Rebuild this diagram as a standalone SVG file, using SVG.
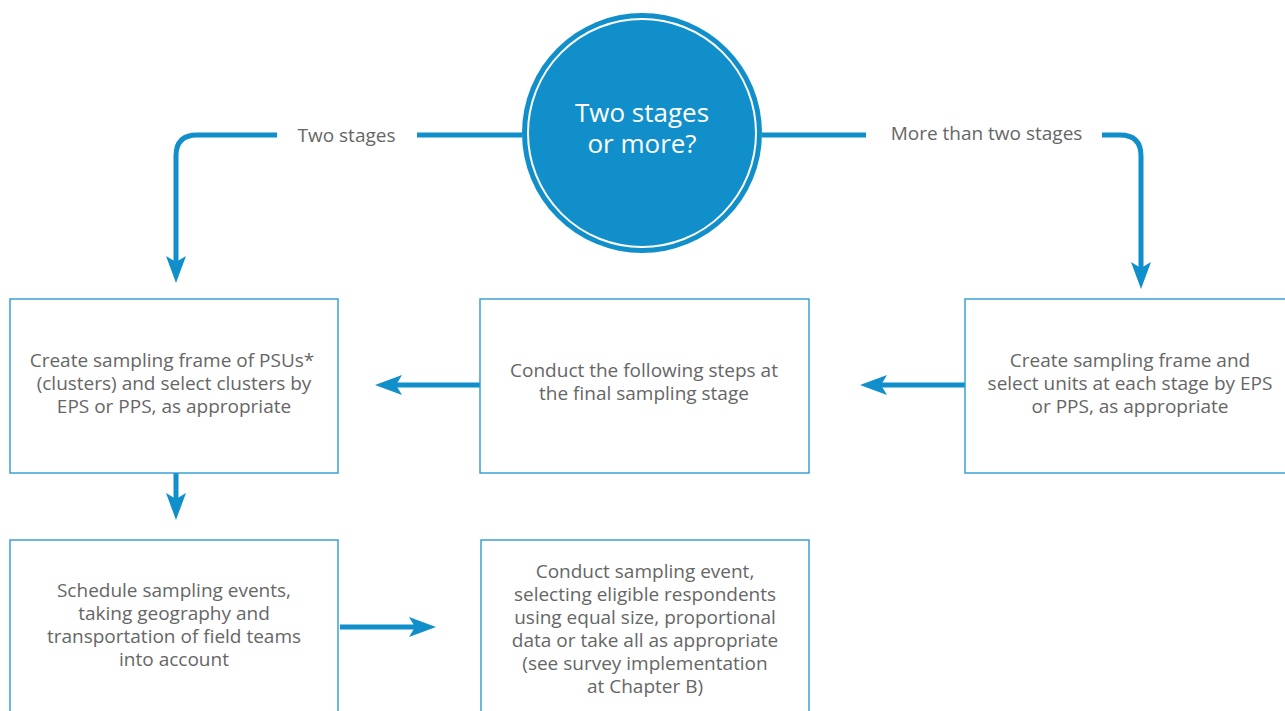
<svg xmlns="http://www.w3.org/2000/svg" width="1285" height="711" viewBox="0 0 1285 711">
<style>
.box{fill:#fff;stroke:#2d9ad5;stroke-width:1.4}
.t{font-family:"Open Sans","Noto Sans","Liberation Sans",sans-serif;font-size:19px;fill:#666;text-anchor:middle}
.lbl{font-family:"Open Sans","Noto Sans","Liberation Sans",sans-serif;font-size:19px;fill:#666;text-anchor:middle}
.ct{font-family:"Open Sans","Noto Sans","Liberation Sans",sans-serif;font-size:26px;fill:#fff;text-anchor:middle}
.c{fill:none;stroke:#118fcb;stroke-width:5}
</style>
<defs>
<marker id="ah" markerUnits="userSpaceOnUse" markerWidth="28" markerHeight="22" viewBox="0 -11 28 22" refX="12" refY="0" orient="auto">
<path d="M0,-10 L27,0 L0,10 L6,0 Z" fill="#118fcb"/>
</marker>
</defs>
<rect width="1285" height="711" fill="#fff"/>
<g id="connectors">
<path class="c" d="M522,135 H417"/>
<path class="c" d="M277,135 H197 Q176,135 176,156 V268" marker-end="url(#ah)"/>
<path class="c" d="M762,135 H866"/>
<path class="c" d="M1102,135 H1120 Q1141,135 1141,156 V274" marker-end="url(#ah)"/>
<path class="c" d="M480,385 H390" marker-end="url(#ah)"/>
<path class="c" d="M965,385 H875" marker-end="url(#ah)"/>
<path class="c" d="M176,473 V505" marker-end="url(#ah)"/>
<path class="c" d="M340,627 H421" marker-end="url(#ah)"/>
<text class="lbl" x="346.5" y="142">Two stages</text>
<text class="lbl" x="986.5" y="140">More than two stages</text>
</g>
<g id="decision">
<circle cx="642" cy="133" r="120" fill="#118fcb"/>
<circle cx="642" cy="133" r="114" fill="none" stroke="#fff" stroke-width="2"/>
<text class="ct" x="642" y="122">Two stages</text>
<text class="ct" x="642" y="153">or more?</text>
</g>
<g id="box1">
<rect class="box" x="10" y="299" width="328" height="174"/>
<text class="t" x="172" y="367">Create sampling frame of PSUs*</text>
<text class="t" x="174" y="390">(clusters) and select clusters by</text>
<text class="t" x="174" y="413">EPS or PPS, as appropriate</text>
</g>
<g id="box2">
<rect class="box" x="480" y="299" width="329" height="174"/>
<text class="t" x="644" y="377">Conduct the following steps at</text>
<text class="t" x="644" y="400">the final sampling stage</text>
</g>
<g id="box3">
<rect class="box" x="965" y="299" width="330" height="174"/>
<text class="t" x="1130" y="367">Create sampling frame and</text>
<text class="t" x="1130" y="390">select units at each stage by EPS</text>
<text class="t" x="1130" y="413">or PPS, as appropriate</text>
</g>
<g id="box4">
<rect class="box" x="10" y="540" width="328" height="190"/>
<text class="t" x="174" y="597">Schedule sampling events,</text>
<text class="t" x="174" y="620">taking geography and</text>
<text class="t" x="174" y="643">transportation of field teams</text>
<text class="t" x="174" y="666">into account</text>
</g>
<g id="box5">
<rect class="box" x="481" y="540" width="328" height="190"/>
<text class="t" x="645" y="578">Conduct sampling event,</text>
<text class="t" x="645" y="601">selecting eligible respondents</text>
<text class="t" x="645" y="624">using equal size, proportional</text>
<text class="t" x="645" y="647">data or take all as appropriate</text>
<text class="t" x="645" y="670">(see survey implementation</text>
<text class="t" x="645" y="693">at Chapter B)</text>
</g>
</svg>
